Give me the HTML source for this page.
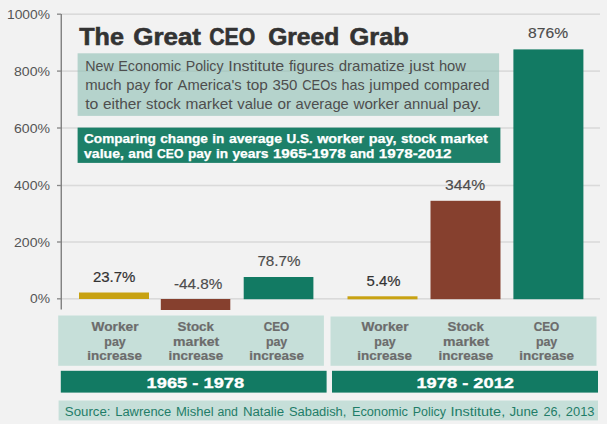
<!DOCTYPE html>
<html><head><meta charset="utf-8">
<style>
html,body{margin:0;padding:0;background:#f2f2f2;}
body{width:607px;height:424px;overflow:hidden;font-family:"Liberation Sans",sans-serif;}
svg{display:block;font-family:"Liberation Sans",sans-serif;}
.ax{fill:#555;font-size:12px;}
.val{fill:#4c4c4c;font-size:14.8px;stroke:#4c4c4c;stroke-width:0.15px;}
.dk{fill:#333;stroke:#333;stroke-width:0.2px;}
.cat{fill:#6c6c6c;font-size:12.2px;font-weight:bold;stroke:#6c6c6c;stroke-width:0.2px;}
.per{fill:#fff;font-size:14.6px;font-weight:bold;stroke:#fff;stroke-width:0.3px;}
</style></head><body>
<svg width="607" height="424" viewBox="0 0 607 424">
<rect width="607" height="424" fill="#f2f2f2"/>
<!-- gridlines -->
<g fill="#dadada">
<rect x="57" y="13.4" width="543" height="1.6"/>
<rect x="57" y="70.3" width="543" height="1.6"/>
<rect x="57" y="127.2" width="543" height="1.6"/>
<rect x="57" y="184.7" width="543" height="1.6"/>
<rect x="57" y="241.2" width="543" height="1.6"/>
<rect x="57" y="298" width="543" height="1.6"/>
</g>
<!-- axis -->
<rect x="60.6" y="14" width="1.3" height="295.5" fill="#777"/>
<g fill="#888">
<rect x="57" y="13.6" width="4" height="1.2"/>
<rect x="57" y="70.5" width="4" height="1.2"/>
<rect x="57" y="127.4" width="4" height="1.2"/>
<rect x="57" y="184.9" width="4" height="1.2"/>
<rect x="57" y="241.4" width="4" height="1.2"/>
<rect x="57" y="298.2" width="4" height="1.2"/>
</g>
<!-- y labels -->
<g class="ax" text-anchor="end">
<text x="50" y="18.8" textLength="43" lengthAdjust="spacingAndGlyphs">1000%</text>
<text x="50" y="75.5" textLength="36" lengthAdjust="spacingAndGlyphs">800%</text>
<text x="50" y="132.5" textLength="36" lengthAdjust="spacingAndGlyphs">600%</text>
<text x="50" y="190" textLength="36" lengthAdjust="spacingAndGlyphs">400%</text>
<text x="50" y="246.6" textLength="36" lengthAdjust="spacingAndGlyphs">200%</text>
<text x="50" y="303.2" textLength="20" lengthAdjust="spacingAndGlyphs">0%</text>
</g>
<!-- bars -->
<rect x="79" y="292.5" width="70" height="6.5" fill="#c8a212"/>
<rect x="160.8" y="299" width="69.5" height="11" fill="#86402e"/>
<rect x="243.7" y="277" width="69.7" height="22.2" fill="#127a63"/>
<rect x="347.5" y="296.3" width="70" height="3" fill="#c8a212"/>
<rect x="430.5" y="200.8" width="70" height="98.4" fill="#86402e"/>
<rect x="513.4" y="49.4" width="70" height="249.8" fill="#127a63"/>
<!-- value labels -->
<g class="val" text-anchor="middle" lengthAdjust="spacingAndGlyphs">
<text class="dk" x="114.2" y="281.5" textLength="42.6" lengthAdjust="spacingAndGlyphs">23.7%</text>
<text x="198.2" y="288.8" textLength="48.4" lengthAdjust="spacingAndGlyphs">-44.8%</text>
<text x="279" y="265.8" textLength="43.2" lengthAdjust="spacingAndGlyphs">78.7%</text>
<text class="dk" x="383.6" y="286.4" textLength="34" lengthAdjust="spacingAndGlyphs">5.4%</text>
<text x="465.1" y="190.2" textLength="40" lengthAdjust="spacingAndGlyphs">344%</text>
<text x="548.1" y="38.3" textLength="40" lengthAdjust="spacingAndGlyphs">876%</text>
</g>
<!-- title -->
<g font-size="23.5" font-weight="bold" fill="#333" stroke="#333" stroke-width="0.6">
<text x="79.3" y="44.7" textLength="44.6" lengthAdjust="spacingAndGlyphs">The</text>
<text x="133.3" y="44.7" textLength="67.6" lengthAdjust="spacingAndGlyphs">Great</text>
<text x="209.3" y="44.7" textLength="46" lengthAdjust="spacingAndGlyphs">CEO</text>
<text x="268.2" y="44.7" textLength="71" lengthAdjust="spacingAndGlyphs">Greed</text>
<text x="349.6" y="44.7" textLength="59.2" lengthAdjust="spacingAndGlyphs">Grab</text>
</g>
<!-- description box -->
<rect x="77.6" y="53.3" width="421.5" height="62.6" fill="#8fc0b5" fill-opacity="0.62"/>
<g font-size="13.9" fill="#4e4e4e">
<text x="85.2" y="70.7" textLength="28.5" lengthAdjust="spacingAndGlyphs">New</text>
<text x="118.3" y="70.7" textLength="62.8" lengthAdjust="spacingAndGlyphs">Economic</text>
<text x="185.7" y="70.7" textLength="37.8" lengthAdjust="spacingAndGlyphs">Policy</text>
<text x="228.2" y="70.7" textLength="56.1" lengthAdjust="spacingAndGlyphs">Institute</text>
<text x="288.9" y="70.7" textLength="45.1" lengthAdjust="spacingAndGlyphs">figures</text>
<text x="338.7" y="70.7" textLength="66.0" lengthAdjust="spacingAndGlyphs">dramatize</text>
<text x="409.3" y="70.7" textLength="25.0" lengthAdjust="spacingAndGlyphs">just</text>
<text x="438.9" y="70.7" textLength="27.1" lengthAdjust="spacingAndGlyphs">how</text>
<text x="85.2" y="90.1" textLength="36.4" lengthAdjust="spacingAndGlyphs">much</text>
<text x="126.2" y="90.1" textLength="23.9" lengthAdjust="spacingAndGlyphs">pay</text>
<text x="154.8" y="90.1" textLength="18.2" lengthAdjust="spacingAndGlyphs">for</text>
<text x="177.6" y="90.1" textLength="64.1" lengthAdjust="spacingAndGlyphs">America's</text>
<text x="246.4" y="90.1" textLength="21.4" lengthAdjust="spacingAndGlyphs">top</text>
<text x="272.4" y="90.1" textLength="25.1" lengthAdjust="spacingAndGlyphs">350</text>
<text x="302.2" y="90.1" textLength="34.7" lengthAdjust="spacingAndGlyphs">CEOs</text>
<text x="341.6" y="90.1" textLength="23.1" lengthAdjust="spacingAndGlyphs">has</text>
<text x="369.3" y="90.1" textLength="50.0" lengthAdjust="spacingAndGlyphs">jumped</text>
<text x="423.9" y="90.1" textLength="65.5" lengthAdjust="spacingAndGlyphs">compared</text>
<text x="85.2" y="109.3" textLength="13.2" lengthAdjust="spacingAndGlyphs">to</text>
<text x="103.0" y="109.3" textLength="38.5" lengthAdjust="spacingAndGlyphs">either</text>
<text x="146.1" y="109.3" textLength="34.7" lengthAdjust="spacingAndGlyphs">stock</text>
<text x="185.4" y="109.3" textLength="47.2" lengthAdjust="spacingAndGlyphs">market</text>
<text x="237.3" y="109.3" textLength="35.5" lengthAdjust="spacingAndGlyphs">value</text>
<text x="277.4" y="109.3" textLength="13.6" lengthAdjust="spacingAndGlyphs">or</text>
<text x="295.6" y="109.3" textLength="53.2" lengthAdjust="spacingAndGlyphs">average</text>
<text x="353.4" y="109.3" textLength="45.7" lengthAdjust="spacingAndGlyphs">worker</text>
<text x="403.7" y="109.3" textLength="44.5" lengthAdjust="spacingAndGlyphs">annual</text>
<text x="452.8" y="109.3" textLength="28.7" lengthAdjust="spacingAndGlyphs">pay.</text>
</g>
<!-- green box -->
<rect x="77.6" y="127.6" width="422.8" height="35.3" fill="#1d8069"/>
<g font-size="12.3" font-weight="bold" fill="#fff" stroke="#fff" stroke-width="0.25">
<text x="84.0" y="143.0" textLength="71.8" lengthAdjust="spacingAndGlyphs">Comparing</text>
<text x="160.3" y="143.0" textLength="47.6" lengthAdjust="spacingAndGlyphs">change</text>
<text x="212.3" y="143.0" textLength="12.1" lengthAdjust="spacingAndGlyphs">in</text>
<text x="228.9" y="143.0" textLength="53.1" lengthAdjust="spacingAndGlyphs">average</text>
<text x="286.5" y="143.0" textLength="26.2" lengthAdjust="spacingAndGlyphs">U.S.</text>
<text x="317.2" y="143.0" textLength="47.0" lengthAdjust="spacingAndGlyphs">worker</text>
<text x="368.7" y="143.0" textLength="27.8" lengthAdjust="spacingAndGlyphs">pay,</text>
<text x="401.0" y="143.0" textLength="35.1" lengthAdjust="spacingAndGlyphs">stock</text>
<text x="440.6" y="143.0" textLength="47.2" lengthAdjust="spacingAndGlyphs">market</text>
<text x="84.0" y="157.6" textLength="39.9" lengthAdjust="spacingAndGlyphs">value,</text>
<text x="128.3" y="157.6" textLength="24.3" lengthAdjust="spacingAndGlyphs">and</text>
<text x="157.1" y="157.6" textLength="26.3" lengthAdjust="spacingAndGlyphs">CEO</text>
<text x="187.9" y="157.6" textLength="23.5" lengthAdjust="spacingAndGlyphs">pay</text>
<text x="215.9" y="157.6" textLength="12.1" lengthAdjust="spacingAndGlyphs">in</text>
<text x="232.4" y="157.6" textLength="36.1" lengthAdjust="spacingAndGlyphs">years</text>
<text x="272.9" y="157.6" textLength="72.8" lengthAdjust="spacingAndGlyphs">1965-1978</text>
<text x="350.1" y="157.6" textLength="24.3" lengthAdjust="spacingAndGlyphs">and</text>
<text x="378.8" y="157.6" textLength="72.8" lengthAdjust="spacingAndGlyphs">1978-2012</text>
</g>
<!-- category panels -->
<rect x="58.2" y="315.5" width="265.7" height="50.3" fill="#c6dfd9"/>
<rect x="330.5" y="316.5" width="266" height="49.3" fill="#c6dfd9"/>
<g class="cat" text-anchor="middle">
<text x="115" y="330.8" textLength="47" lengthAdjust="spacingAndGlyphs">Worker</text>
<text x="115" y="345.5" textLength="21.4" lengthAdjust="spacingAndGlyphs">pay</text>
<text x="114.6" y="360.3" textLength="54.6" lengthAdjust="spacingAndGlyphs">increase</text>
<text x="195.8" y="330.8" textLength="36.4" lengthAdjust="spacingAndGlyphs">Stock</text>
<text x="196.2" y="345.5" textLength="46.2" lengthAdjust="spacingAndGlyphs">market</text>
<text x="195.9" y="360.3" textLength="54.6" lengthAdjust="spacingAndGlyphs">increase</text>
<text x="276.5" y="330.8" textLength="25.7" lengthAdjust="spacingAndGlyphs">CEO</text>
<text x="276.6" y="345.5" textLength="21.4" lengthAdjust="spacingAndGlyphs">pay</text>
<text x="276.6" y="360.3" textLength="54.6" lengthAdjust="spacingAndGlyphs">increase</text>
<text x="385" y="330.8" textLength="47" lengthAdjust="spacingAndGlyphs">Worker</text>
<text x="385" y="345.5" textLength="21.4" lengthAdjust="spacingAndGlyphs">pay</text>
<text x="384.6" y="360.3" textLength="54.6" lengthAdjust="spacingAndGlyphs">increase</text>
<text x="465.8" y="330.8" textLength="36.4" lengthAdjust="spacingAndGlyphs">Stock</text>
<text x="466.2" y="345.5" textLength="46.2" lengthAdjust="spacingAndGlyphs">market</text>
<text x="465.9" y="360.3" textLength="54.6" lengthAdjust="spacingAndGlyphs">increase</text>
<text x="546.5" y="330.8" textLength="25.7" lengthAdjust="spacingAndGlyphs">CEO</text>
<text x="546.6" y="345.5" textLength="21.4" lengthAdjust="spacingAndGlyphs">pay</text>
<text x="546.6" y="360.3" textLength="54.6" lengthAdjust="spacingAndGlyphs">increase</text>
</g>
<!-- period bars -->
<rect x="60.8" y="370.8" width="265.8" height="21.8" fill="#127a63"/>
<rect x="332" y="370.8" width="266" height="21.8" fill="#127a63"/>
<g class="per" text-anchor="middle">
<text x="195.4" y="387.7" textLength="97.6" lengthAdjust="spacingAndGlyphs">1965 - 1978</text>
<text x="465.2" y="387.7" textLength="97.6" lengthAdjust="spacingAndGlyphs">1978 - 2012</text>
</g>
<!-- source -->
<rect x="58.6" y="400.5" width="539.4" height="19.9" fill="#c6dfd9"/>
<g font-size="12.5" fill="#1f7d68">
<text x="64.8" y="415.5" textLength="45.7" lengthAdjust="spacingAndGlyphs">Source:</text>
<text x="115.2" y="415.5" textLength="56.1" lengthAdjust="spacingAndGlyphs">Lawrence</text>
<text x="176.0" y="415.5" textLength="37.7" lengthAdjust="spacingAndGlyphs">Mishel</text>
<text x="217.4" y="415.5" textLength="20.5" lengthAdjust="spacingAndGlyphs">and</text>
<text x="242.9" y="415.5" textLength="41.2" lengthAdjust="spacingAndGlyphs">Natalie</text>
<text x="288.9" y="415.5" textLength="57.5" lengthAdjust="spacingAndGlyphs">Sabadish,</text>
<text x="351.9" y="415.5" textLength="56.0" lengthAdjust="spacingAndGlyphs">Economic</text>
<text x="412.7" y="415.5" textLength="33.2" lengthAdjust="spacingAndGlyphs">Policy</text>
<text x="450.4" y="415.5" textLength="54.8" lengthAdjust="spacingAndGlyphs">Institute,</text>
<text x="509.4" y="415.5" textLength="28.8" lengthAdjust="spacingAndGlyphs">June</text>
<text x="543.5" y="415.5" textLength="17.6" lengthAdjust="spacingAndGlyphs">26,</text>
<text x="565.8" y="415.5" textLength="28.7" lengthAdjust="spacingAndGlyphs">2013</text>
</g>
</svg>
</body></html>
